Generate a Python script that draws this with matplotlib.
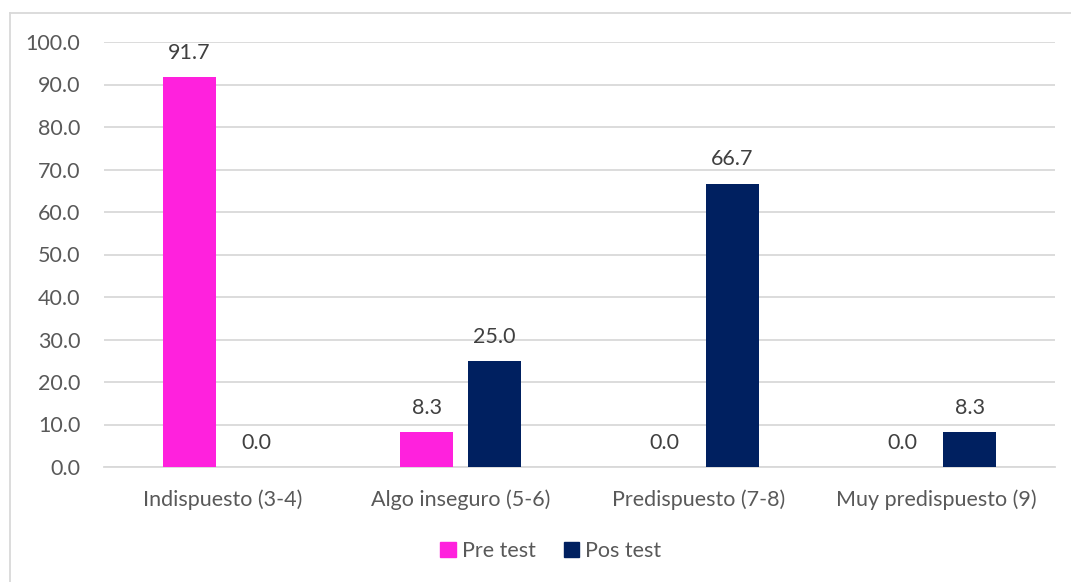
import matplotlib
matplotlib.use("Agg")
import matplotlib.pyplot as plt
from matplotlib.lines import Line2D
from matplotlib.patches import Patch
import numpy as np

categories = ["Indispuesto (3-4)", "Algo inseguro (5-6)", "Predispuesto (7-8)", "Muy predispuesto (9)"]
pre_test = [91.7, 8.3, 0.0, 0.0]
pos_test = [0.0, 25.0, 66.7, 8.3]
series_names = ["Pre test", "Pos test"]
y_ticks = [0, 10, 20, 30, 40, 50, 60, 70, 80, 90, 100]

PINK = "#FF21DD"
NAVY = "#002060"
GRID = "#D9D9D9"
TICK_TXT = "#595959"
LABEL_TXT = "#404040"
FS = 15.5

plt.rcParams["font.family"] = ["Lato", "DejaVu Sans"]

W, H = 1071, 582
fig = plt.figure(figsize=(W / 100, H / 100), dpi=100)
ax = fig.add_axes([104 / W, 1 - 467 / H, (1055 - 104) / W, (467 - 42) / H])

x = np.arange(len(categories))
offset = 0.142
width = 0.223

b1 = ax.bar(x - offset, pre_test, width, color=PINK, linewidth=0, zorder=3)
b2 = ax.bar(x + offset, pos_test, width, color=NAVY, linewidth=0, zorder=3)

for bars, vals in ((b1, pre_test), (b2, pos_test)):
    for rect, v in zip(bars, vals):
        ax.annotate(f"{v:.1f}", (rect.get_x() + rect.get_width() / 2, v),
                    xytext=(0, 13), textcoords="offset points",
                    ha="center", va="baseline", fontsize=FS, color=LABEL_TXT)

ax.set_xlim(-0.5, 3.5)
ax.set_ylim(0, 100)
ax.set_yticks(y_ticks)
ax.set_yticklabels([f"{t:.1f}" for t in y_ticks])
ax.set_xticks(x)
ax.set_xticklabels(categories)

ax.tick_params(axis="y", length=0, pad=17, labelsize=FS, labelcolor=TICK_TXT)
ax.tick_params(axis="x", length=0, pad=16, labelsize=FS, labelcolor=TICK_TXT)

ax.grid(axis="y", color=GRID, linewidth=1.3, zorder=0)
for s in ["top", "right", "left"]:
    ax.spines[s].set_visible(False)
ax.spines["bottom"].set_color(GRID)
ax.spines["bottom"].set_linewidth(1.3)

handles = [Patch(facecolor=PINK, edgecolor=PINK), Patch(facecolor=NAVY, edgecolor=NAVY)]
fig.legend(handles, series_names, loc="center", bbox_to_anchor=(551 / W, 1 - 551 / H),
           ncol=2, frameon=False, fontsize=FS, labelcolor=TICK_TXT,
           handlelength=0.7, handleheight=0.7, handletextpad=0.3, columnspacing=1.3)

# chart-area frame (top and left edges)
fig.add_artist(Line2D([9.5 / W, 1.0], [1 - 12.5 / H, 1 - 12.5 / H], color=GRID, linewidth=1.3,
                      transform=fig.transFigure))
fig.add_artist(Line2D([9.5 / W, 9.5 / W], [1 - 12.5 / H, 0.0], color=GRID, linewidth=1.3,
                      transform=fig.transFigure))

fig.savefig("out.png", dpi=100)
